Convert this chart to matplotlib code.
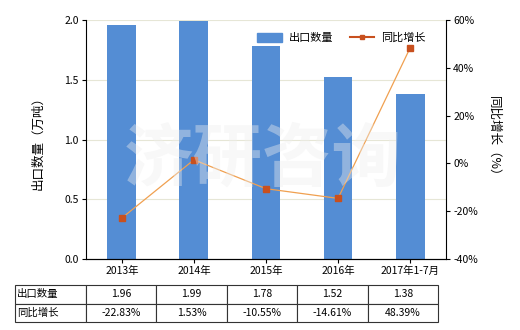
import numpy as np
import matplotlib.pyplot as plt
from matplotlib.lines import Line2D
from matplotlib.patches import Patch

plt.rcParams['font.family'] = ['Noto Sans CJK SC', 'DejaVu Sans']

years = ['2013年', '2014年', '2015年', '2016年', '2017年1-7月']
qty = [1.96, 1.99, 1.78, 1.52, 1.38]
growth = [-22.83, 1.53, -10.55, -14.61, 48.39]
qty_txt = ['1.96', '1.99', '1.78', '1.52', '1.38']
growth_txt = ['-22.83%', '1.53%', '-10.55%', '-14.61%', '48.39%']

fig = plt.figure(figsize=(5.2, 3.3), dpi=100)
ax = fig.add_axes([0.165, 0.215, 0.693, 0.724])
x = np.arange(len(years))

ax.set_ylim(0, 2.0)
ax.set_xlim(-0.5, len(years) - 0.5)
ax.set_yticks([0, 0.5, 1.0, 1.5, 2.0])
ax.set_yticklabels(['0.0', '0.5', '1.0', '1.5', '2.0'], fontsize=7.5)
for v in [0.5, 1.0, 1.5, 2.0]:
    ax.axhline(v, color='#e6e6d6', lw=0.8, zorder=0)
ax.bar(x, qty, width=0.4, color='#548dd4', zorder=2)
ax.set_xticks(x)
ax.set_xticklabels(years, fontsize=7.5)
ax.tick_params(axis='both', length=3, width=0.8, pad=2)
ax.spines['top'].set_visible(False)
ax.spines['right'].set_visible(False)
ax.set_ylabel('出口数量（万吨）', fontsize=9, labelpad=14)

ax2 = ax.twinx()
ax2.set_ylim(-40, 60)
ax2.set_yticks([-40, -20, 0, 20, 40, 60])
ax2.set_yticklabels(['-40%', '-20%', '0%', '20%', '40%', '60%'], fontsize=7.5)
ax2.tick_params(axis='y', length=3, width=0.8, pad=2)
ax2.spines['top'].set_visible(False)
ax2.spines['left'].set_visible(False)
ax2.plot(x, growth, color='#f0a050', lw=0.9, zorder=3)
ax2.plot(x, growth, ls='none', marker='s', ms=4.5, color='#c8501e', zorder=4)
ax2.set_ylabel('同比增长（%）', fontsize=9, rotation=-90, labelpad=16)

# watermark
fig.text(0.505, 0.515, '济研咨询', fontsize=50, fontweight='bold', color='#eeeeee',
         alpha=0.4, ha='center', va='center', zorder=10)

handles = [Patch(color='#548dd4'),
           Line2D([], [], color='#c8501e', lw=1.5, marker='s', ms=3.5)]
ax2.legend(handles, ['出口数量', '同比增长'], ncol=2, frameon=False, fontsize=8,
           loc='upper right', bbox_to_anchor=(0.97, 0.99), handlelength=2.2,
           handleheight=0.9, columnspacing=1.5, handletextpad=0.6)

cells = [['出口数量'] + qty_txt, ['同比增长'] + growth_txt]
tb = ax.table(cellText=cells, cellLoc='center',
              colWidths=[0.197] + [0.196] * 5,
              bbox=[-0.197, -0.264, 1.175, 0.155])
tb.auto_set_font_size(False)
for (r, c), cell in tb.get_celld().items():
    cell.set_linewidth(0.8)
    cell.set_edgecolor('#333333')
    cell.get_text().set_fontsize(7.5)
    if c == 0:
        cell.get_text().set_ha('left')
        cell.PAD = 0.03

fig.savefig('out.png', dpi=100)
